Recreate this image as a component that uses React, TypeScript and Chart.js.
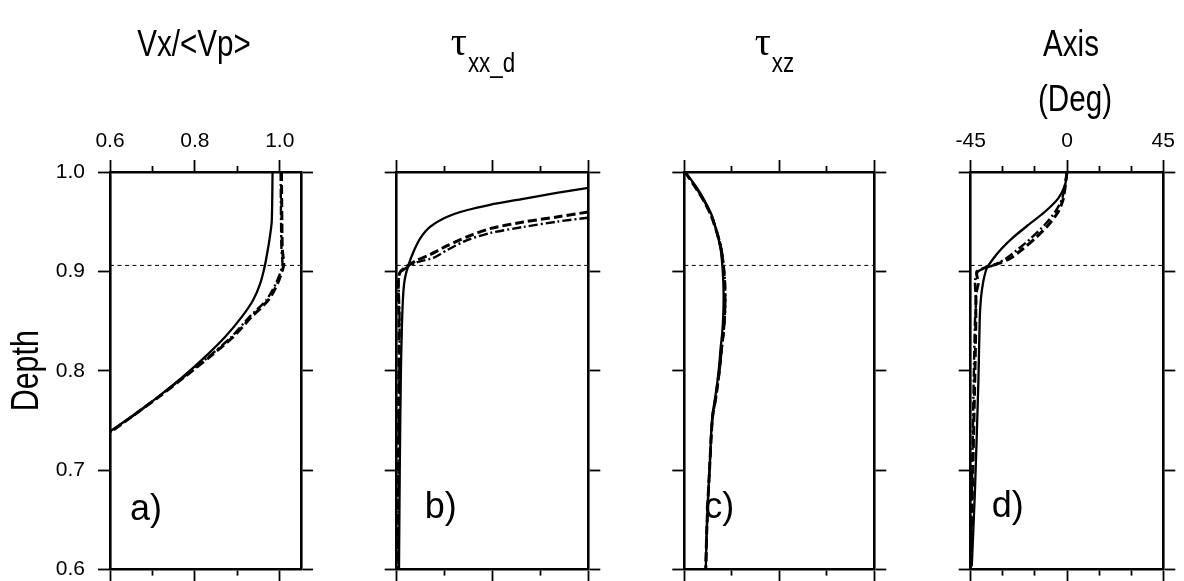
import React, { useEffect, useRef } from 'react';
import { Chart, registerables } from 'chart.js';

Chart.register(...registerables);

// ---------------- data ----------------
const depthTicks = [0.6, 0.7, 0.8, 0.9, 1.0];
const depthTickLabels = ['0.6', '0.7', '0.8', '0.9', '1.0'];
const transitionDepth = 0.906;

// panel a : Vx/<Vp>
const aRange = [0.6, 1.05];
const aTicks = [0.6, 0.7, 0.8, 0.9, 1.0];
const aTickLabels = ['0.6', '', '0.8', '', '1.0'];
const aMajor = [true, false, true, false, true];
const aSolidDepth = [1.0, 0.95, 0.93, 0.92, 0.906, 0.888, 0.871, 0.854, 0.834, 0.814, 0.794, 0.774, 0.754, 0.739];
const aSolidVal = [0.983, 0.981, 0.975, 0.971, 0.965, 0.954, 0.937, 0.91, 0.871, 0.824, 0.772, 0.714, 0.651, 0.6];
const aDashDepth = [1.0, 0.95, 0.922, 0.906, 0.888, 0.871, 0.854, 0.834, 0.814, 0.794, 0.774, 0.754, 0.738];
const aDashVal = [1.004, 1.005, 1.006, 1.009, 0.995, 0.973, 0.933, 0.89, 0.835, 0.776, 0.716, 0.652, 0.6];
const aDotDepth = [1.0, 0.95, 0.922, 0.906, 0.888, 0.871, 0.854, 0.834, 0.814, 0.794, 0.774, 0.754, 0.738];
const aDotVal = [1.002, 1.003, 1.004, 1.006, 0.991, 0.968, 0.928, 0.886, 0.832, 0.774, 0.715, 0.652, 0.6];

// panel b : tau_xx_d
const bRange = [0, 1];
const bTicks = [0, 0.25, 0.5, 0.75, 1];
const bTickLabels = ['', '', '', '', ''];
const bMajor = [true, false, true, false, true];
const bSolidDepth = [0.984, 0.979, 0.973, 0.967, 0.9615, 0.9547, 0.9447, 0.933, 0.9195, 0.906, 0.893, 0.88, 0.85, 0.8, 0.7, 0.6];
const bSolidVal = [1.0, 0.835, 0.661, 0.487, 0.365, 0.261, 0.174, 0.122, 0.087, 0.061, 0.043, 0.035, 0.028, 0.022, 0.016, 0.012];
const bDashDepth = [0.9598, 0.9547, 0.9497, 0.943, 0.9346, 0.9256, 0.9168, 0.911, 0.905, 0.899, 0.89, 0.85, 0.75, 0.6];
const bDashVal = [1.0, 0.835, 0.661, 0.487, 0.365, 0.261, 0.174, 0.104, 0.052, 0.017, 0.008, 0.012, 0.01, 0.006];
const bDotDepth = [0.954, 0.95, 0.9447, 0.9386, 0.9313, 0.9212, 0.9135, 0.909, 0.904, 0.898, 0.89, 0.85, 0.75, 0.6];
const bDotVal = [1.0, 0.835, 0.661, 0.487, 0.365, 0.261, 0.191, 0.104, 0.052, 0.015, 0.01, 0.015, 0.012, 0.008];

// panel c : tau_xz
const cRange = [0, 1];
const cTicks = [0, 0.25, 0.5, 0.75, 1];
const cTickLabels = ['', '', '', '', ''];
const cMajor = [true, false, true, false, true];
const cDepth = [1.0, 0.987, 0.9735, 0.9567, 0.94, 0.923, 0.9064, 0.89, 0.873, 0.856, 0.839, 0.8226, 0.806, 0.789, 0.7723, 0.7555, 0.7387, 0.705, 0.6717, 0.638, 0.6];
const cSolidVal = [0.004, 0.056, 0.1, 0.144, 0.17, 0.191, 0.2, 0.205, 0.207, 0.205, 0.2, 0.191, 0.184, 0.174, 0.162, 0.148, 0.142, 0.134, 0.125, 0.118, 0.113];
const cDashVal = [0.004, 0.05, 0.095, 0.14, 0.17, 0.193, 0.205, 0.212, 0.214, 0.212, 0.206, 0.196, 0.188, 0.177, 0.165, 0.15, 0.143, 0.134, 0.125, 0.118, 0.113];
const cDotVal = [0.004, 0.052, 0.097, 0.142, 0.172, 0.195, 0.207, 0.214, 0.216, 0.214, 0.207, 0.197, 0.189, 0.178, 0.166, 0.151, 0.143, 0.134, 0.125, 0.118, 0.113];

// panel d : Axis (Deg)
const dRange = [-45, 45];
const dTicks = [-45, -30, -15, 0, 15, 30, 45];
const dTickLabels = ['-45', '', '', '0', '', '', '45'];
const dMajor = [true, false, false, true, false, false, true];
const dSolidDepth = [1.0, 0.987, 0.9735, 0.96, 0.9467, 0.933, 0.923, 0.913, 0.903, 0.89, 0.873, 0.85, 0.79, 0.68, 0.603];
const dSolidVal = [0, -0.9, -4.1, -10.3, -18.1, -25.8, -30.5, -34.4, -37.5, -39.1, -40.2, -40.8, -41.4, -43, -44.5];
const dDashDepth = [1.0, 0.9735, 0.96, 0.9467, 0.933, 0.923, 0.913, 0.908, 0.903, 0.8995, 0.888, 0.877, 0.85, 0.8, 0.7, 0.6];
const dDashVal = [0, -1.7, -4.1, -8.7, -15, -20.4, -26.6, -32, -39.1, -42.2, -41.5, -42.5, -42.6, -43, -44, -45];
const dDotDepth = [1.0, 0.9735, 0.96, 0.9467, 0.933, 0.923, 0.913, 0.906, 0.9, 0.89, 0.87, 0.85, 0.8, 0.7, 0.6];
const dDotVal = [0, -2.2, -5.5, -10.5, -17, -22.5, -28.5, -34.5, -41.5, -43, -42.5, -43, -43.5, -44.3, -45];

// ---------------- layout / style ----------------
const W = 1184;
const H = 581;
const BOX_TOP = 172;
const BOX_BOTTOM = 569.5;
const TICK = 12;
const SANS = '"Liberation Sans", Arial, sans-serif';
const SERIF = '"Liberation Serif", "Times New Roman", serif';
const NARROW_SCALE = 0.8;

const SOLID = { borderWidth: 2.3, borderDash: [] as number[] };
const DASHED = { borderWidth: 3, borderDash: [9, 4] };
const DASHDOT = { borderWidth: 2.4, borderDash: [9, 3, 2, 3] };

function pts(depth: number[], vals: number[]) {
  return depth.map((d, i) => ({ x: vals[i], y: d }));
}

type Panel = {
  left: number;
  right: number;
  range: number[];
  ticks: number[];
  tickLabels: string[];
  major: boolean[];
  showDepthLabels: boolean;
  series: { depth: number[]; vals: number[]; style: any }[];
  draw: (ctx: CanvasRenderingContext2D, chart: any) => void;
};

function narrowText(ctx: CanvasRenderingContext2D, text: string, x: number, y: number, size: number, align: CanvasTextAlign) {
  ctx.save();
  ctx.translate(x, y);
  ctx.scale(NARROW_SCALE, 1);
  ctx.font = `${size}px ${SANS}`;
  ctx.textAlign = align;
  ctx.textBaseline = 'alphabetic';
  ctx.fillText(text, 0, 0);
  ctx.restore();
}

function drawTau(ctx: CanvasRenderingContext2D, cx: number, base: number, sub: string) {
  ctx.font = `40px ${SERIF}`;
  const w1 = ctx.measureText('\u03C4').width;
  ctx.font = `28px ${SANS}`;
  const w2 = ctx.measureText(sub).width * NARROW_SCALE;
  const x0 = cx - (w1 + w2) / 2;
  ctx.textAlign = 'left';
  ctx.textBaseline = 'alphabetic';
  ctx.font = `40px ${SERIF}`;
  ctx.fillText('\u03C4', x0, base);
  narrowText(ctx, sub, x0 + w1 + 1, base + 17, 28, 'left');
}

function letter(ctx: CanvasRenderingContext2D, text: string, x: number, y: number) {
  ctx.font = `36px ${SANS}`;
  ctx.textAlign = 'left';
  ctx.textBaseline = 'alphabetic';
  ctx.fillText(text, x, y);
}

const panels: Panel[] = [
  {
    left: 110, right: 301, range: aRange, ticks: aTicks, tickLabels: aTickLabels, major: aMajor, showDepthLabels: true,
    series: [
      { depth: aSolidDepth, vals: aSolidVal, style: SOLID },
      { depth: aDashDepth, vals: aDashVal, style: DASHED },
      { depth: aDotDepth, vals: aDotVal, style: DASHDOT },
    ],
    draw: (ctx, chart) => {
      const ca = chart.chartArea;
      ctx.fillStyle = '#000';
      narrowText(ctx, 'Vx/<Vp>', 194, 56, 37, 'center');
      ctx.save();
      ctx.translate(38, (ca.top + ca.bottom) / 2);
      ctx.rotate(-Math.PI / 2);
      narrowText(ctx, 'Depth', 0, 0, 38, 'center');
      ctx.restore();
      letter(ctx, 'a)', ca.left + 20, 520);
    },
  },
  {
    left: 396.7, right: 588.3, range: bRange, ticks: bTicks, tickLabels: bTickLabels, major: bMajor, showDepthLabels: false,
    series: [
      { depth: bSolidDepth, vals: bSolidVal, style: SOLID },
      { depth: bDashDepth, vals: bDashVal, style: DASHED },
      { depth: bDotDepth, vals: bDotVal, style: DASHDOT },
    ],
    draw: (ctx, chart) => {
      const ca = chart.chartArea;
      ctx.fillStyle = '#000';
      drawTau(ctx, (ca.left + ca.right) / 2 - 10, 55, 'xx_d');
      letter(ctx, 'b)', ca.left + 28, 518);
    },
  },
  {
    left: 684.3, right: 874.3, range: cRange, ticks: cTicks, tickLabels: cTickLabels, major: cMajor, showDepthLabels: false,
    series: [
      { depth: cDepth, vals: cSolidVal, style: SOLID },
      { depth: cDepth, vals: cDashVal, style: DASHED },
      { depth: cDepth, vals: cDotVal, style: DASHDOT },
    ],
    draw: (ctx, chart) => {
      const ca = chart.chartArea;
      ctx.fillStyle = '#000';
      drawTau(ctx, 774, 55, 'xz');
      letter(ctx, 'c)', ca.left + 20, 518);
    },
  },
  {
    left: 970.7, right: 1163.3, range: dRange, ticks: dTicks, tickLabels: dTickLabels, major: dMajor, showDepthLabels: false,
    series: [
      { depth: dSolidDepth, vals: dSolidVal, style: SOLID },
      { depth: dDashDepth, vals: dDashVal, style: DASHED },
      { depth: dDotDepth, vals: dDotVal, style: DASHDOT },
    ],
    draw: (ctx, chart) => {
      const ca = chart.chartArea;
      ctx.fillStyle = '#000';
      narrowText(ctx, 'Axis', 1071, 56, 37, 'center');
      narrowText(ctx, '(Deg)', 1075, 111, 37, 'center');
      letter(ctx, 'd)', ca.left + 21, 517);
    },
  },
];

function zeroPad(s: any) {
  s.paddingLeft = 0;
  s.paddingRight = 0;
  s.paddingTop = 0;
  s.paddingBottom = 0;
}

function buildConfig(p: Panel): any {
  const xMin = p.range[0];
  const xMax = p.range[1];
  const datasets: any[] = p.series.map((s) => ({
    data: pts(s.depth, s.vals),
    borderColor: '#000',
    backgroundColor: '#000',
    borderWidth: s.style.borderWidth,
    borderDash: s.style.borderDash,
    pointRadius: 0,
    tension: 0.25,
    fill: false,
    xAxisID: 'xTop',
    yAxisID: 'yLeft',
  }));
  datasets.push({
    data: [{ x: xMin, y: transitionDepth }, { x: xMax, y: transitionDepth }],
    borderColor: '#000',
    borderWidth: 1,
    borderDash: [4, 3.5],
    pointRadius: 0,
    tension: 0,
    fill: false,
    xAxisID: 'xTop',
    yAxisID: 'yLeft',
  });

  const border = { display: true, width: 2.6, color: '#000' };
  const tickFont = { family: SANS, size: 21 };

  const xAxis = (position: 'top' | 'bottom') => ({
    type: 'linear',
    position,
    min: xMin,
    max: xMax,
    afterBuildTicks: (s: any) => {
      s.ticks = p.ticks.map((v) => ({ value: v }));
    },
    afterFit: (s: any) => {
      s.height = position === 'top' ? BOX_TOP : H - BOX_BOTTOM;
      zeroPad(s);
    },
    ticks: {
      display: position === 'top',
      autoSkip: false,
      maxRotation: 0,
      padding: 6,
      color: '#000',
      font: tickFont,
      callback: (_v: any, i: number) => p.tickLabels[i],
    },
    grid: {
      drawOnChartArea: false,
      drawTicks: true,
      tickLength: TICK,
      tickWidth: 1.8,
      tickColor: '#000',
      tickBorderDash: (ctx: any) => {
        const i = p.ticks.indexOf(ctx.tick ? ctx.tick.value : NaN);
        if (i < 0 || p.major[i]) return [];
        return position === 'top' ? [0, 6, 40, 0] : [5, 40];
      },
    },
    border,
  });

  const yAxis = (position: 'left' | 'right') => ({
    type: 'linear',
    position,
    min: 0.6,
    max: 1.0,
    afterBuildTicks: (s: any) => {
      s.ticks = depthTicks.map((v) => ({ value: v }));
    },
    afterFit: (s: any) => {
      s.width = position === 'left' ? p.left : W - p.right;
      zeroPad(s);
    },
    ticks: {
      display: position === 'left' && p.showDepthLabels,
      autoSkip: false,
      padding: 13,
      color: '#000',
      font: tickFont,
      callback: (_v: any, i: number) => depthTickLabels[i],
    },
    grid: {
      drawOnChartArea: false,
      drawTicks: true,
      tickLength: TICK,
      tickWidth: 1.8,
      tickColor: '#000',
    },
    border,
  });

  return {
    type: 'line',
    data: { datasets },
    options: {
      responsive: false,
      maintainAspectRatio: false,
      animation: false,
      events: [],
      layout: { padding: 0 },
      plugins: {
        legend: { display: false },
        tooltip: { enabled: false },
        title: { display: false },
      },
      scales: {
        xTop: xAxis('top'),
        xBottom: xAxis('bottom'),
        yLeft: yAxis('left'),
        yRight: yAxis('right'),
      },
    },
    plugins: [
      {
        id: 'panelTexts',
        afterDraw(chart: any) {
          const ctx = chart.ctx as CanvasRenderingContext2D;
          ctx.save();
          p.draw(ctx, chart);
          ctx.restore();
        },
      },
    ],
  };
}

export default function App() {
  const refs = useRef<(HTMLCanvasElement | null)[]>([]);

  useEffect(() => {
    const charts = panels.map((p, i) => new Chart(refs.current[i] as HTMLCanvasElement, buildConfig(p)));
    return () => charts.forEach((c) => c.destroy());
  }, []);

  return (
    <div style={{ position: 'absolute', left: 0, top: 0, width: W, height: H, background: '#fff' }}>
      {panels.map((_, i) => (
        <canvas
          key={i}
          ref={(el) => {
            refs.current[i] = el;
          }}
          width={W}
          height={H}
          style={{ position: 'absolute', left: 0, top: 0, width: W, height: H }}
        />
      ))}
    </div>
  );
}
